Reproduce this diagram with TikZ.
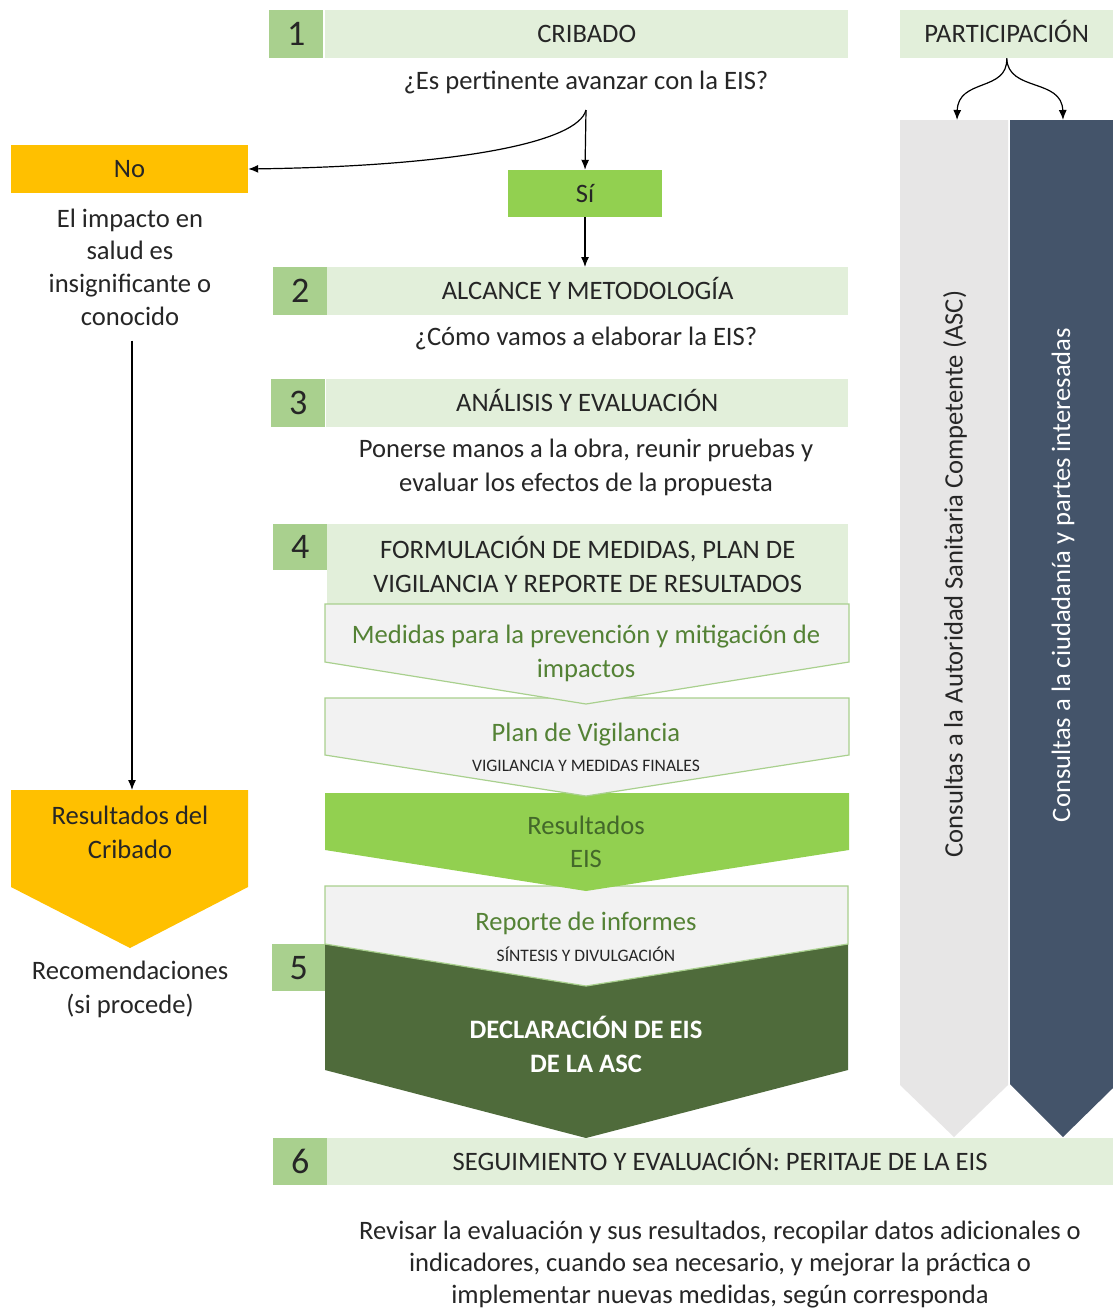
\documentclass[tikz,border=0pt]{standalone}
\usepackage{fontspec}
\setmainfont{Carlito}
\usetikzlibrary{arrows.meta}
\definecolor{hdr}{HTML}{E2EFDA}
\definecolor{numg}{HTML}{A9D08E}
\definecolor{sig}{HTML}{92D050}
\definecolor{org}{HTML}{FFC000}
\definecolor{chev}{HTML}{F2F2F2}
\definecolor{dkg}{HTML}{4F6B3B}
\definecolor{txg}{HTML}{548235}
\definecolor{colg}{HTML}{E7E6E6}
\definecolor{cold}{HTML}{44546A}
\definecolor{txt}{HTML}{262626}
\begin{document}
\begin{tikzpicture}[x=1pt,y=-1pt,
  base/.style={font=\fontsize{26.6}{33}\selectfont, text=txt, inner sep=0pt, align=center},
  hdrbox/.style={base, fill=hdr, anchor=north west, minimum height=48pt},
  capfix/.style={text height=17pt, text depth=0pt},
  numbox/.style={fill=numg, anchor=north west, minimum width=54pt, minimum height=48pt, inner sep=0pt, font=\fontsize{36}{36}\selectfont, text=txt},
  chevtxt/.style={base, text=txg},
  smallcap/.style={inner sep=0pt, font=\fontsize{17.5}{18}\selectfont, text=txt},
  chevshape/.style={fill=chev, draw=numg, line width=1.2pt},
  arr/.style={draw=black, line width=1.2pt, -{Latex[length=10pt,width=8pt]}}
]
\useasboundingbox (0,0) rectangle (1113,1312);
\fill[white] (0,0) rectangle (1113,1312);

% ---------- right columns ----------
\fill[colg] (900,120) -- (1008,120) -- (1008,1085) -- (954,1137) -- (900,1085) -- cycle;
\fill[cold] (1010,120) -- (1113,120) -- (1113,1088) -- (1063,1137) -- (1010,1084) -- cycle;
\node[base, rotate=90] (asc) at (955,574) {Consultas a la Autoridad Sanitaria Competente (ASC)};
\node[base, rotate=90, text=white] (ciu) at (1063,575) {Consultas a la ciudadanía y partes interesadas};
\node[hdrbox, capfix, minimum width=213pt] (part) at (900,10) {PARTICIPACIÓN};
\coordinate (pA) at (957,120);
\coordinate (pB) at (1063,120);
\draw[arr] (part.south) .. controls (1008,92) and (958,78) .. (pA);
\draw[arr] (part.south) .. controls (1008,92) and (1062,78) .. (pB);

% ---------- step 1 ----------
\node[numbox] (n1) at (269,10) {1};
\node[hdrbox, capfix, minimum width=523pt] (h1) at (325,10) {CRIBADO};
\node[base] (q1) at (586,82) {¿Es pertinente avanzar con la EIS?};
\coordinate (split) at (586,110);
\node[base, fill=sig, minimum width=154pt, minimum height=47pt] (si) at (585,193.5) {Sí};
\node[base, fill=org, minimum width=237pt, minimum height=48pt] (no) at (129.5,169) {No};
\draw[arr] (split) -- (si.north);
\draw[arr] (split) .. controls (578,142) and (460,166) .. (no.east);

% ---------- step 2 ----------
\node[numbox] (n2) at (273,267) {2};
\node[hdrbox, capfix, minimum width=521pt] (h2) at (327,267) {ALCANCE Y METODOLOGÍA};
\draw[arr] (si.south) -- (si.south |- h2.north);
\node[base] (q2) at (586,338) {¿Cómo vamos a elaborar la EIS?};

% ---------- step 3 ----------
\node[numbox] (n3) at (271,379) {3};
\node[hdrbox, capfix, minimum width=522pt] (h3) at (326,379) {ANÁLISIS Y EVALUACIÓN};
\node[base, font=\fontsize{26.6}{34}\selectfont] (q3) at (586,467) {Ponerse manos a la obra, reunir pruebas y\\evaluar los efectos de la propuesta};

% ---------- step 4 ----------
\node[numbox, minimum height=46pt] (n4) at (273,524) {4};
\node[hdrbox, minimum width=521pt, minimum height=80pt, font=\fontsize{26.6}{34}\selectfont] (h4) at (327,524) {FORMULACIÓN DE MEDIDAS, PLAN DE\\VIGILANCIA Y REPORTE DE RESULTADOS};

% chevrons (drawn bottom-up so upper tips lie on top)
\fill[dkg] (325,944) -- (848,944) -- (848,1070) -- (586,1138) -- (325,1070) -- cycle;
\node[base, text=white, font=\bfseries\fontsize{26.6}{34}\selectfont] (decl) at (586,1044) {DECLARACIÓN DE EIS\\DE LA ASC};
\draw[chevshape] (325,886) -- (848,886) -- (848,944) -- (586,986) -- (325,944) -- cycle;
\node[chevtxt] (rep) at (586,923) {Reporte de informes};
\node[smallcap] (sin) at (586,954) {SÍNTESIS Y DIVULGACIÓN};
\fill[sig] (325,793) -- (849,793) -- (849,850) -- (586,891) -- (325,850) -- cycle;
\node[chevtxt, text=txg!80!black] (res) at (586,842) {Resultados\\EIS};
\draw[chevshape] (325,698) -- (849,698) -- (849,755) -- (586,796) -- (325,755) -- cycle;
\node[chevtxt] (plan) at (586,735) {Plan de Vigilancia};
\node[smallcap] (vig) at (586,766) {VIGILANCIA Y MEDIDAS FINALES};
\draw[chevshape] (325,604) -- (849,604) -- (849,662) -- (586,704) -- (325,662) -- cycle;
\node[chevtxt, font=\fontsize{26.6}{34}\selectfont] (med) at (586,653) {Medidas para la prevención y mitigación de\\impactos};

% ---------- step 5 ----------
\node[numbox, minimum width=53pt, minimum height=47pt] (n5) at (272,944) {5};

% ---------- step 6 ----------
\node[numbox, minimum height=47pt] (n6) at (273,1138) {6};
\node[hdrbox, capfix, minimum width=786pt, minimum height=47pt] (h6) at (327,1138) {SEGUIMIENTO Y EVALUACIÓN: PERITAJE DE LA EIS};
\node[base, font=\fontsize{26.6}{32}\selectfont] (rev) at (720,1265) {Revisar la evaluación y sus resultados, recopilar datos adicionales o\\indicadores, cuando sea necesario, y mejorar la práctica o\\implementar nuevas medidas, según corresponda};

% ---------- left branch ----------
\node[base, font=\fontsize{26.6}{32.7}\selectfont] (imp) at (130,267) {El impacto en\\salud es\\insignificante o\\conocido};
\fill[org] (11,790) -- (248,790) -- (248,887) -- (130,948) -- (11,887) -- cycle;
\coordinate (rctop) at (132,790);
\node[base, font=\fontsize{26.6}{34}\selectfont] (rc) at (130,832) {Resultados del\\Cribado};
\draw[arr] ([yshift=-15pt]imp.south -| rctop) -- (rctop);
\node[base, font=\fontsize{26.6}{34}\selectfont] (rec) at (130,989) {Recomendaciones\\(si procede)};
\end{tikzpicture}
\end{document}
